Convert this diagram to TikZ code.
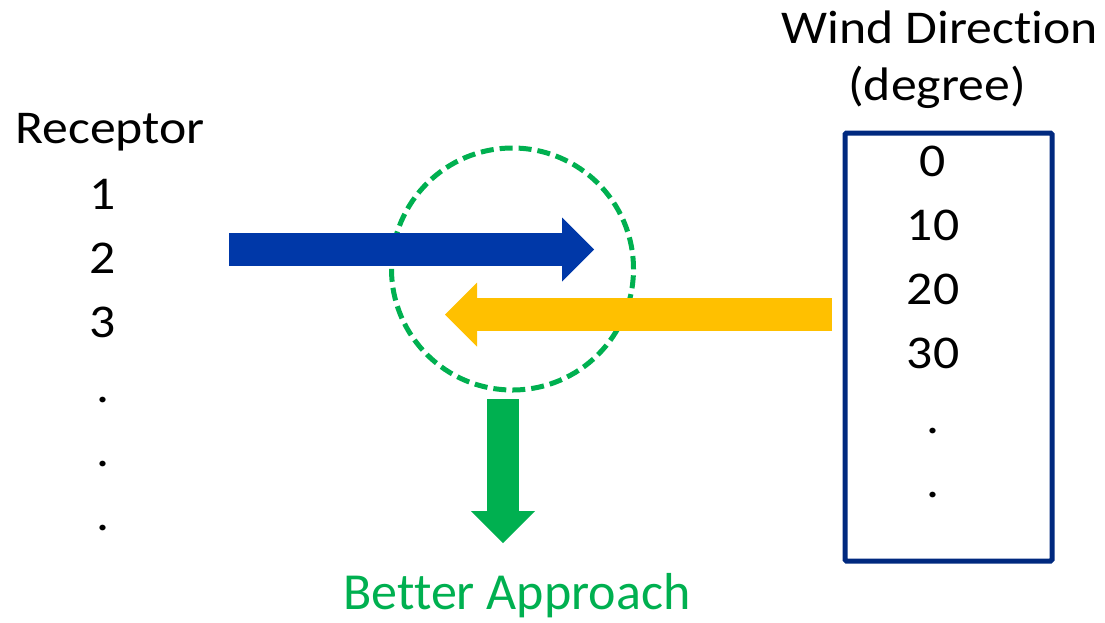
\documentclass[tikz,border=0pt]{standalone}
\usepackage{fontspec}
\setmainfont[Ligatures=NoCommon]{Carlito}
\newfontfamily\widefont[FakeStretch=1.1,Ligatures=NoCommon]{Carlito}
\usetikzlibrary{arrows.meta,positioning}
\definecolor{flowblue}{HTML}{0038A8}
\definecolor{flowyellow}{HTML}{FFC000}
\definecolor{flowgreen}{HTML}{00B050}
\definecolor{boxnavy}{HTML}{00297F}

\begin{document}
\begin{tikzpicture}[x=1pt,y=-1pt,
  txt/.style={font=\widefont\fontsize{47}{56}\selectfont,inner sep=0pt,anchor=base},
  fatarrow/.style={line width=33pt,-{Triangle[length=32pt,width=64pt,line width=0pt]}}]
  \useasboundingbox (0,0) rectangle (1105,622);

  % Receptor column
  \node[txt] (rec) at (110,143) {Receptor};
  \node[txt] (r1) at (103,209) {1};
  \node[txt] (r2) at (103,273) {2};
  \node[txt] (r3) at (103,337) {3};
  \node[txt] (rd1) at (103,402) {.};
  \node[txt] (rd2) at (103,466) {.};
  \node[txt] (rd3) at (103,530) {.};

  % Wind direction column
  \node[txt] (wind) at (940,43) {Wind Direction};
  \node[txt] (deg) at (937,100) {(degree)};
  \node[draw=boxnavy,line width=5pt,rounded corners=1.5pt,minimum width=207pt,minimum height=428pt,inner sep=0pt] (dirbox) at (948.5,347) {};
  \node[txt] (w0) at (933,176) {0};
  \node[txt] (w10) at (933,240) {10};
  \node[txt] (w20) at (933,304) {20};
  \node[txt] (w30) at (933,368) {30};
  \node[txt] (wd1) at (933,433) {.};
  \node[txt] (wd2) at (933,497) {.};

  % Meeting point
  \node[draw=flowgreen,line width=5pt,dash pattern=on 13pt off 6pt,circle,minimum size=242pt,inner sep=0pt] (focus) at (512.5,269) {};

  % Block arrows
  \coordinate (blueS) at (229,249.5);
  \coordinate (blueE) at (594,249.5);
  \coordinate (yelS) at (832,314.5);
  \coordinate (yelE) at (445,314.5);
  \coordinate (grnS) at (503,399);
  \coordinate (grnE) at (503,543);
  \draw[fatarrow,flowblue] (blueS) -- (blueE);
  \draw[fatarrow,flowyellow] (yelS) -- (yelE);
  \draw[fatarrow,flowgreen,line width=32pt] (grnS) -- (grnE);

  \node[font=\fontsize{52}{62}\selectfont,text=flowgreen,inner sep=0pt,anchor=base] (better) at (517,609) {Better Approach};
\end{tikzpicture}
\end{document}
